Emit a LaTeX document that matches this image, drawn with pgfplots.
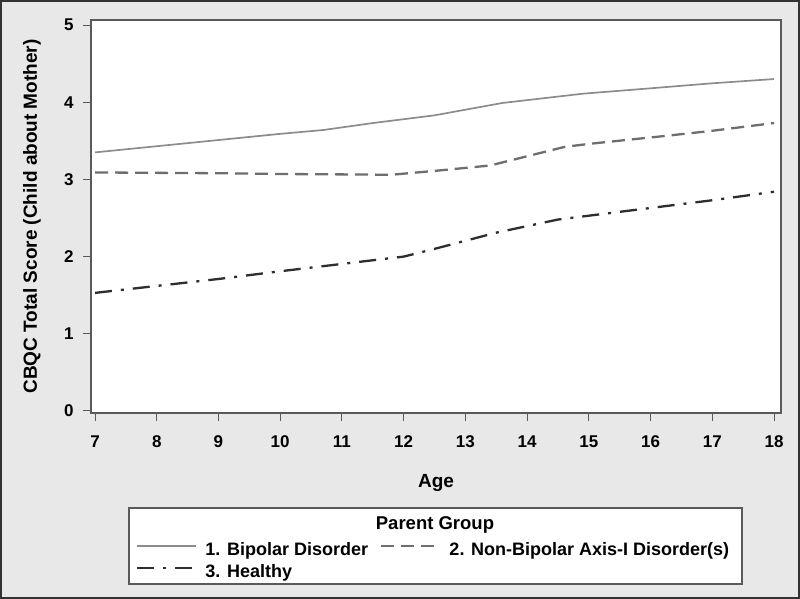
\documentclass[border=0pt]{standalone}
\usepackage{pgfplots}
\pgfplotsset{compat=1.18}
\usepackage{fontspec}
\setmainfont{Liberation Sans}
\definecolor{bgc}{HTML}{E8E8E8}
\definecolor{cbip}{HTML}{8C8C8C}
\definecolor{cnon}{HTML}{6E6E6E}
\definecolor{chea}{HTML}{2E2E2E}
\definecolor{frame}{HTML}{5A5A5A}
\begin{document}
\begin{tikzpicture}[x=1pt,y=1pt]
\useasboundingbox (-91,-186) rectangle (709,413);
\fill[bgc] (-91,-186) rectangle (709,413);
\draw[black!80, line width=2pt] (-90,-185) rectangle (708,412);
\draw[frame, line width=1.2pt, fill=white] (38,-95) rectangle (651,-171);
\node[font=\bfseries\fontsize{18.5}{22}\selectfont, anchor=base] at (344,-116) {Parent Group};
\begin{axis}[at={(0,0)}, anchor=south west,
  width=690pt, height=393pt, scale only axis,
  xmin=6.935, xmax=18.113, ymin=-0.026, ymax=5.065,
  axis background/.style={fill=white},
  axis line style={draw=frame, line width=1.2pt},
  xtick={7,8,...,18}, ytick={0,1,...,5},
  xtick pos=bottom, ytick pos=left,
  tick align=outside, major tick length=8pt,
  tick style={draw=frame, line width=1pt},
  /pgf/number format/assume math mode=true,
  ticklabel style={font=\bfseries\fontsize{17}{20}\selectfont},
  xticklabel style={yshift=-11pt},
  yticklabel style={xshift=-6pt},
  xlabel={Age}, ylabel={CBQC Total Score (Child about Mother)},
  label style={font=\bfseries\fontsize{19}{22}\selectfont},
  xlabel style={at={(axis description cs:0.5,-0.1883)}, anchor=base},
  ylabel style={at={(axis description cs:-0.0783,0.5)}, anchor=base},
  legend columns=2,
  legend style={draw=none, fill=none, at={(0.0652,-0.3282)}, anchor=north west,
    inner sep=0pt, row sep=5pt,
    font=\bfseries\fontsize{18}{22}\selectfont,
    nodes={inner sep=0pt, text height=13pt, text depth=4pt},
    /tikz/every odd column/.append style={column sep=8pt},
    /tikz/every even column/.append style={column sep=12pt}},
  legend cell align=left,
  legend image code/.code={\draw[#1] (0pt,4.5pt) -- (59pt,4.5pt);},
]
\addplot[cbip, line width=1.7pt] coordinates {
 (7,3.35) (8,3.43) (9,3.51) (10,3.59) (10.7,3.64) (11.5,3.73) (12.5,3.83)
 (13.6,3.99) (14.9,4.11) (16,4.18) (17,4.245) (18,4.30)};
\addlegendentry{1. Bipolar Disorder}
\addplot[cnon, line width=2.3pt, dash pattern=on 13pt off 7pt] coordinates {
 (7,3.09) (8,3.085) (9,3.08) (10,3.07) (11,3.065) (11.8,3.06) (12.5,3.11)
 (13.4,3.18) (14.6,3.42) (15,3.46) (16.2,3.56) (17,3.63) (18,3.73)};
\addlegendentry{2. Non-Bipolar Axis-I Disorder(s)}
\addplot[chea, line width=2.3pt, dash pattern=on 17pt off 9pt on 3pt off 9pt] coordinates {
 (7,1.53) (8,1.62) (9,1.71) (10,1.81) (11,1.905) (12,2.0) (12.5,2.1)
 (13.5,2.31) (14.5,2.48) (15,2.53) (16.2,2.65) (17,2.73) (18,2.84)};
\addlegendentry{3. Healthy}
\end{axis}
\end{tikzpicture}
\end{document}
